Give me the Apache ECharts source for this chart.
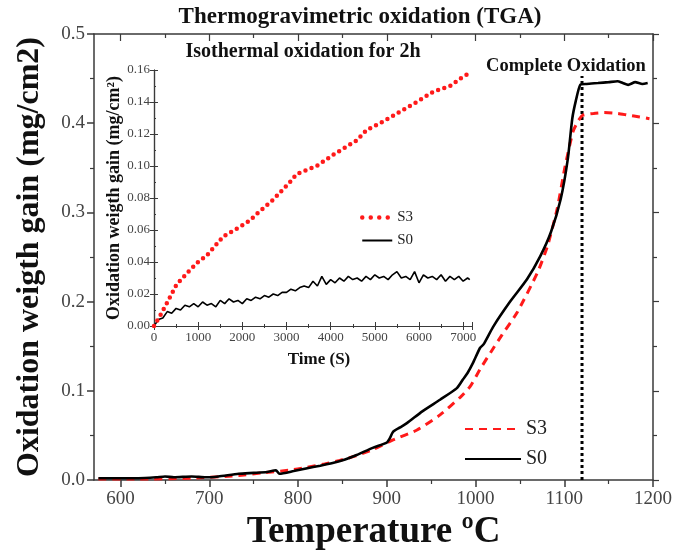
<!DOCTYPE html>
<html>
<head>
<meta charset="utf-8">
<script src="https://cdn.jsdelivr.net/npm/echarts@6/dist/echarts.min.js"></script>
<style>html,body{margin:0;padding:0;background:#fff}#c{width:688px;height:550px}</style>
</head>
<body>
<div id="c"></div>
<script>
// ---------- Main chart data (temperature sweep) ----------
const mainTempS0 = [575,600,620,640,650,660,680,696,710,733,750,765,775,779,795,809,825,839,853,866,884,900,903,907,915,923,940,960,979,986,991,997,1005,1009,1020,1039,1058,1073,1085,1096,1104,1109,1113,1118,1125,1138,1150,1160,1166,1172,1180,1188,1194];
const mainS0     = [0.002,0.002,0.002,0.003,0.004,0.003,0.004,0.003,0.004,0.007,0.008,0.009,0.011,0.007,0.010,0.013,0.016,0.019,0.023,0.028,0.036,0.042,0.046,0.054,0.059,0.064,0.077,0.090,0.103,0.113,0.120,0.131,0.148,0.152,0.172,0.200,0.225,0.251,0.278,0.315,0.360,0.405,0.425,0.443,0.444,0.445,0.446,0.447,0.445,0.443,0.446,0.444,0.445];
const mainTempS3 = [575,620,680,733,760,790,809,830,847,865,884,907,934,960,983,994,1005,1017,1030,1047,1070,1081,1092,1101,1110,1116,1121,1133,1145,1160,1172,1185,1196];
const mainS3     = [0.001,0.001,0.002,0.005,0.008,0.011,0.014,0.018,0.022,0.027,0.034,0.045,0.056,0.073,0.093,0.105,0.124,0.143,0.163,0.188,0.233,0.262,0.304,0.352,0.391,0.403,0.409,0.411,0.412,0.411,0.409,0.407,0.405];
const completeOxTemp = 1120;
const completeOxRange = [0, 0.453];
const mainXTicks = [600,700,800,900,1000,1100,1200];
const mainXMinorTicks = [650,750,850,950,1050,1150];

// ---------- Inset data (isothermal, 2 h) ----------
const insetTimeS0 = [0,100,200,300,400,500,600,700,800,900,1000,1100,1200,1300,1400,1500,1600,1700,1800,1900,2000,2100,2200,2300,2400,2500,2600,2700,2800,2900,3000,3100,3200,3300,3400,3500,3600,3700,3800,3900,4000,4100,4200,4300,4400,4500,4600,4700,4800,4900,5000,5100,5200,5300,5400,5500,5600,5700,5800,5900,6000,6100,6200,6300,6400,6500,6600,6700,6800,6900,7000,7100,7150];
const insetS0     = [0.000,0.004,0.005,0.009,0.008,0.011,0.010,0.013,0.012,0.014,0.012,0.015,0.013,0.014,0.012,0.016,0.014,0.017,0.015,0.016,0.014,0.017,0.016,0.018,0.017,0.019,0.018,0.020,0.019,0.021,0.021,0.023,0.022,0.024,0.025,0.024,0.028,0.025,0.031,0.026,0.029,0.027,0.030,0.028,0.031,0.029,0.030,0.028,0.031,0.029,0.032,0.030,0.031,0.029,0.032,0.034,0.030,0.031,0.029,0.034,0.027,0.032,0.030,0.031,0.029,0.032,0.028,0.031,0.029,0.031,0.028,0.030,0.029];
const insetTimeS3 = [0,150,287,513,815,1000,1193,1569,1947,2173,2325,2701,3079,3231,3683,4059,4589,4815,5200,5570,5948,6325,6702,7004,7150];
const insetS3     = [0,0.007,0.014,0.026,0.035,0.040,0.044,0.056,0.062,0.066,0.070,0.079,0.090,0.095,0.100,0.107,0.116,0.1225,0.128,0.134,0.140,0.1465,0.150,0.156,0.158];

const zip = (a, b) => a.map((v, i) => [v, b[i]]);
const SERIF = '"Liberation Serif","DejaVu Serif",serif';
const AX = '#3a3a3a';
const LBL = '#444';

const chart = echarts.init(document.getElementById('c'), null, {renderer: 'canvas'});

const noLabel = {show: false};
const option = {
  backgroundColor: '#fff',
  animation: false,
  grid: [
    {left: 94, top: 34, width: 559, height: 446, containLabel: false, outerBoundsMode: 'none'},
    {left: 154, top: 70, width: 318, height: 256, containLabel: false, outerBoundsMode: 'none', show: true, backgroundColor: '#fff', borderWidth: 0}
  ],
  xAxis: [
    {gridIndex: 0, type: 'value', min: 570, max: 1200, position: 'bottom',
     axisLine: {lineStyle: {color: AX, width: 1.5}},
     axisTick: {customValues: mainXTicks, length: 7, lineStyle: {color: AX, width: 1.5}},
     axisLabel: {customValues: mainXTicks, fontSize: 19, color: LBL, fontFamily: SERIF, margin: 10, formatter: v => String(v)},
     splitLine: {show: false},
     name: 'Temperature ºC', nameLocation: 'middle', nameGap: 29,
     nameTextStyle: {fontFamily: SERIF, fontWeight: 'bold', fontSize: 37, color: '#111'}},
    {gridIndex: 0, type: 'value', min: 570, max: 1200, position: 'bottom',
     axisLine: {show: false},
     axisTick: {customValues: mainXMinorTicks, length: 4, lineStyle: {color: AX, width: 1.2}},
     axisLabel: noLabel, splitLine: {show: false}},
    {gridIndex: 0, type: 'value', min: 570, max: 1200, position: 'top',
     axisLine: {lineStyle: {color: AX, width: 1.5}},
     axisTick: {inside: true, customValues: mainXTicks, length: 7, lineStyle: {color: AX, width: 1.2}},
     axisLabel: noLabel, splitLine: {show: false}},
    {gridIndex: 0, type: 'value', min: 570, max: 1200, position: 'top',
     axisLine: {show: false},
     axisTick: {inside: true, customValues: mainXMinorTicks, length: 4, lineStyle: {color: AX, width: 1.2}},
     axisLabel: noLabel, splitLine: {show: false}},
    // inset
    {gridIndex: 1, type: 'value', min: 0, max: 7200, interval: 1000, position: 'bottom',
     axisLine: {lineStyle: {color: AX, width: 1.2}},
     axisTick: {inside: true, length: 4, lineStyle: {color: AX}},
     minorTick: {show: true, splitNumber: 2, length: 2, lineStyle: {color: AX}},
     axisLabel: {fontSize: 13, color: LBL, fontFamily: SERIF, margin: 5, showMaxLabel: false, formatter: v => String(v)},
     splitLine: {show: false},
     name: 'Time (S)', nameLocation: 'middle', nameGap: 25,
     nameTextStyle: {fontFamily: SERIF, fontWeight: 'bold', fontSize: 17, color: '#111', padding: [0, 0, 0, 12]}},
    {gridIndex: 1, type: 'value', min: 0, max: 7200, interval: 1000, position: 'top',
     axisLine: {lineStyle: {color: AX, width: 1.2}},
     axisTick: {inside: true, length: 4, lineStyle: {color: AX}},
     minorTick: {show: true, splitNumber: 2, length: 2, lineStyle: {color: AX}},
     axisLabel: noLabel, splitLine: {show: false}}
  ],
  yAxis: [
    {gridIndex: 0, type: 'value', min: 0, max: 0.5, interval: 0.1, position: 'left',
     axisLine: {show: true, lineStyle: {color: AX, width: 1.5}},
     axisTick: {show: true, length: 7, lineStyle: {color: AX, width: 1.5}},
     minorTick: {show: true, splitNumber: 2, length: 4, lineStyle: {color: AX, width: 1.2}},
     axisLabel: {fontSize: 19, color: LBL, fontFamily: SERIF, margin: 9, formatter: v => v.toFixed(1)},
     splitLine: {show: false},
     name: 'Oxidation weigth gain (mg/cm2)', nameLocation: 'middle', nameGap: 48, nameRotate: 90,
     nameTextStyle: {fontFamily: SERIF, fontWeight: 'bold', fontSize: 32, color: '#111'}},
    {gridIndex: 0, type: 'value', min: 0, max: 0.5, interval: 0.1, position: 'right',
     axisLine: {show: true, lineStyle: {color: AX, width: 1.5}},
     axisTick: {show: true, length: 6, lineStyle: {color: AX, width: 1.2}},
     minorTick: {show: true, splitNumber: 2, length: 4, lineStyle: {color: AX, width: 1.2}},
     axisLabel: noLabel, splitLine: {show: false}},
    // inset
    {gridIndex: 1, type: 'value', min: 0, max: 0.16, interval: 0.02, position: 'left',
     axisLine: {show: true, lineStyle: {color: AX, width: 1.2}},
     axisTick: {show: true, inside: true, length: 4, lineStyle: {color: AX}},
     minorTick: {show: true, splitNumber: 2, length: 2, lineStyle: {color: AX}},
     axisLabel: {fontSize: 13, color: LBL, fontFamily: SERIF, margin: 4, formatter: v => v.toFixed(2)},
     splitLine: {show: false},
     name: 'Oxidation weigth gain (mg/cm²)', nameLocation: 'middle', nameGap: 30, nameRotate: 90,
     nameTextStyle: {fontFamily: SERIF, fontWeight: 'bold', fontSize: 18, color: '#111'}},
    {gridIndex: 1, type: 'value', min: 0, max: 0.16, interval: 0.02, position: 'right',
     axisLine: {show: true, lineStyle: {color: AX, width: 1.2}},
     axisTick: {show: true, inside: true, length: 4, lineStyle: {color: AX}},
     axisLabel: noLabel, splitLine: {show: false}}
  ],
  legend: [
    {data: ['S3', 'S0'], orient: 'vertical', left: 459, top: 414, itemWidth: 56, itemHeight: 14, itemGap: 10,
     itemStyle: {opacity: 0},
     textStyle: {fontFamily: SERIF, fontSize: 20, color: '#222'}, selectedMode: false},
    {data: [
       {name: 'S3 inset', lineStyle: {width: 4.5, cap: 'round', type: [0, 8.5]}},
       {name: 'S0 inset', lineStyle: {width: 2}}
     ], orient: 'vertical', left: 355, top: 205, itemWidth: 30, itemHeight: 12, itemGap: 8,
     itemStyle: {opacity: 0},
     formatter: n => n.replace(' inset', ''),
     textStyle: {fontFamily: SERIF, fontSize: 15, color: '#222'}, selectedMode: false}
  ],
  graphic: [
    {type: 'text', x: 360, y: 17, style: {text: 'Thermogravimetric oxidation (TGA)', font: 'bold 23px ' + SERIF, fill: '#111', align: 'center', verticalAlign: 'middle'}},
    {type: 'text', x: 303, y: 52, style: {text: 'Isothermal oxidation for 2h', font: 'bold 20px ' + SERIF, fill: '#111', align: 'center', verticalAlign: 'middle'}},
    {type: 'text', x: 566, y: 66, style: {text: 'Complete Oxidation', font: 'bold 18.5px ' + SERIF, fill: '#111', align: 'center', verticalAlign: 'middle'}}
  ],
  series: [
    {name: 'S3', type: 'line', xAxisIndex: 0, yAxisIndex: 0, data: zip(mainTempS3, mainS3), showSymbol: false, symbol: 'none', smooth: 0.2,
     lineStyle: {color: '#ff1a1a', width: 3, type: [8, 6]}, itemStyle: {color: '#ff1a1a'}, z: 3},
    {name: 'S0', type: 'line', xAxisIndex: 0, yAxisIndex: 0, data: zip(mainTempS0, mainS0), showSymbol: false, symbol: 'none', smooth: 0.2,
     lineStyle: {color: '#000', width: 2.6}, itemStyle: {color: '#000'}, z: 4},
    {name: 'complete', type: 'line', xAxisIndex: 0, yAxisIndex: 0,
     data: completeOxRange.map(v => [completeOxTemp, v]), showSymbol: false, symbol: 'none',
     lineStyle: {color: '#000', width: 3, type: [3, 3]}, z: 2},
    {name: 'S3 inset', type: 'line', xAxisIndex: 4, yAxisIndex: 2, data: zip(insetTimeS3, insetS3), showSymbol: false, symbol: 'none',
     lineStyle: {color: '#ff1a1a', width: 4.5, type: [0, 6.5], cap: 'round'}, itemStyle: {color: '#ff1a1a'}, z: 6},
    {name: 'S0 inset', type: 'line', xAxisIndex: 4, yAxisIndex: 2, data: zip(insetTimeS0, insetS0), showSymbol: false, symbol: 'none',
     lineStyle: {color: '#000', width: 1.6}, itemStyle: {color: '#000'}, z: 5}
  ]
};
chart.setOption(option);
</script>
</body>
</html>
